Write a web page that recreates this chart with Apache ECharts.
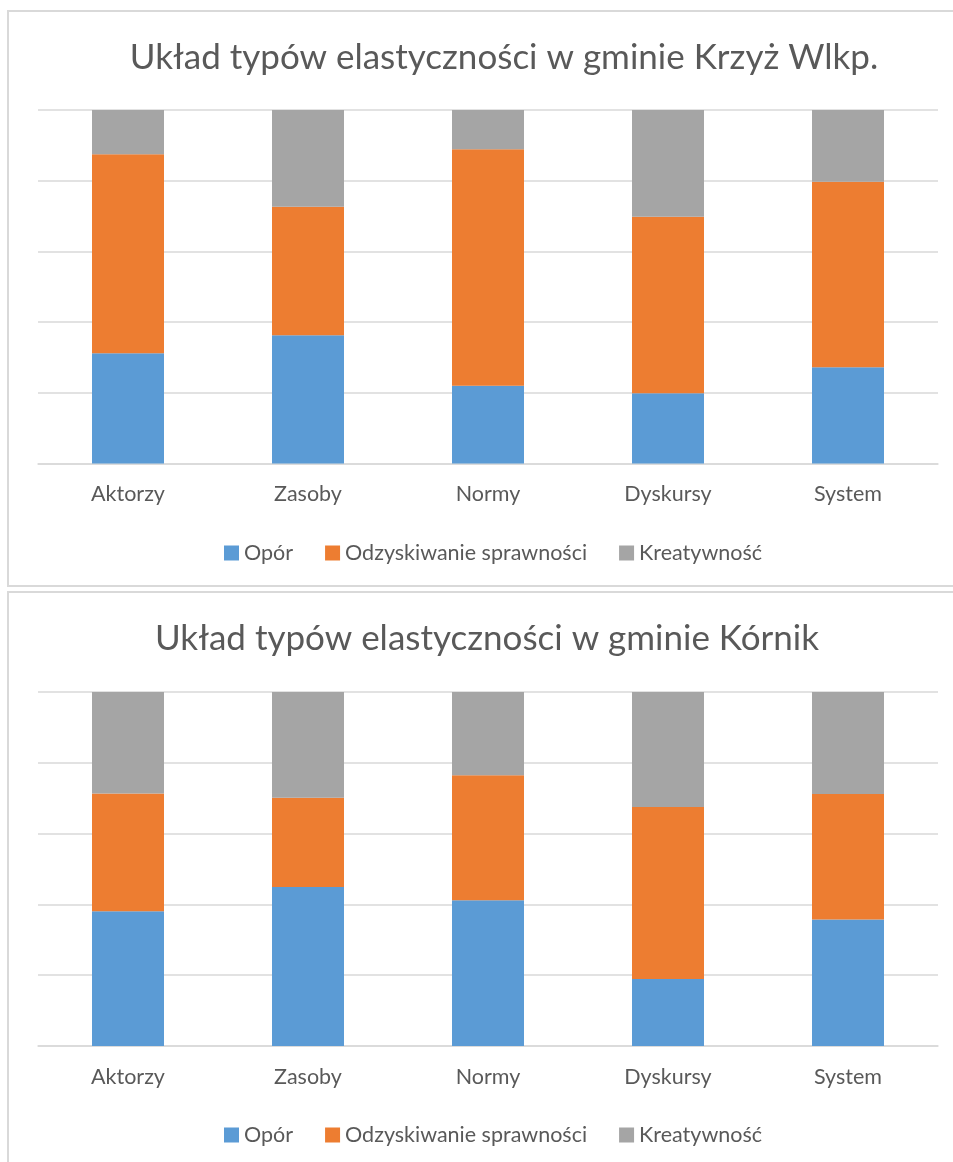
<!DOCTYPE html>
<html>
<head>
<meta charset="utf-8">
<script src="https://cdn.jsdelivr.net/npm/echarts@6/dist/echarts.min.js"></script>
<style>
html,body{margin:0;padding:0;background:#fff;}
#c{width:953px;height:1162px;}
</style>
</head>
<body>
<div id="c"></div>
<script>
const categories = ['Aktorzy', 'Zasoby', 'Normy', 'Dyskursy', 'System'];
const seriesNames = ['Opór', 'Odzyskiwanie sprawności', 'Kreatywność'];
const chartTitles = ['Układ typów elastyczności w gminie Krzyż Wlkp.', 'Układ typów elastyczności w gminie Kórnik'];

const krzyzOpor = [31.2, 36.3, 22.0, 19.9, 27.2];
const krzyzOdzyskiwanie = [56.3, 36.3, 66.9, 49.9, 52.5];
const krzyzKreatywnosc = [12.5, 27.4, 11.1, 30.2, 20.3];

const kornikOpor = [38.1, 44.9, 41.2, 18.9, 35.7];
const kornikOdzyskiwanie = [33.2, 25.2, 35.3, 48.6, 35.5];
const kornikKreatywnosc = [28.7, 29.9, 23.5, 32.5, 28.8];

const colors = ['#5B9BD5', '#ED7D31', '#A5A5A5'];
const FONT = 'Lato';
const TXT = '#595959';

const chart = echarts.init(document.getElementById('c'), null, {renderer: 'canvas'});

const dataSets = [
  [krzyzOpor, krzyzOdzyskiwanie, krzyzKreatywnosc],
  [kornikOpor, kornikOdzyskiwanie, kornikKreatywnosc]
];

const grids = [
  {left: 38, top: 110, width: 900, height: 353.5},
  {left: 38, top: 692, width: 900, height: 354}
];

const xAxes = grids.map((g, i) => ({
  type: 'category', gridIndex: i, data: categories,
  axisLine: {lineStyle: {color: '#d9d9d9', width: 1.5}},
  axisTick: {show: false},
  axisLabel: {color: TXT, fontFamily: FONT, fontSize: 21.5, margin: 20}
}));
const yAxes = grids.map((g, i) => ({
  type: 'value', gridIndex: i, min: 0, max: 100, interval: 20,
  axisLabel: {show: false}, axisLine: {show: false}, axisTick: {show: false},
  splitLine: {lineStyle: {color: '#d9d9d9', width: 1.5}}
}));

const series = [];
dataSets.forEach((ds, ci) => {
  ds.forEach((vals, si) => {
    series.push({
      name: seriesNames[si], type: 'bar', stack: 'st' + ci,
      xAxisIndex: ci, yAxisIndex: ci, barWidth: '40%',
      itemStyle: {color: colors[si]},
      data: vals
    });
  });
});

chart.setOption({
  animation: false,
  color: colors,
  title: chartTitles.map((t, i) => ({
    text: t, left: i === 0 ? 499 : 482, textAlign: 'center', top: i === 0 ? 35 : 616,
    textStyle: {color: TXT, fontFamily: FONT, fontSize: 35, fontWeight: 'normal'}
  })),
  legend: [537, 1119].map(top => ({
    data: seriesNames, left: 219, top: top, itemWidth: 15, itemHeight: 15, itemGap: 32,
    icon: 'rect',
    textStyle: {color: TXT, fontFamily: FONT, fontSize: 21.5}
  })),
  grid: grids,
  xAxis: xAxes,
  yAxis: yAxes,
  series: series,
  graphic: [
    {type: 'rect', silent: true, shape: {x: 8, y: 11, width: 960, height: 575}, style: {fill: 'none', stroke: '#d9d9d9', lineWidth: 2}},
    {type: 'rect', silent: true, shape: {x: 8, y: 592, width: 960, height: 620}, style: {fill: 'none', stroke: '#d9d9d9', lineWidth: 2}}
  ]
});
</script>
</body>
</html>
